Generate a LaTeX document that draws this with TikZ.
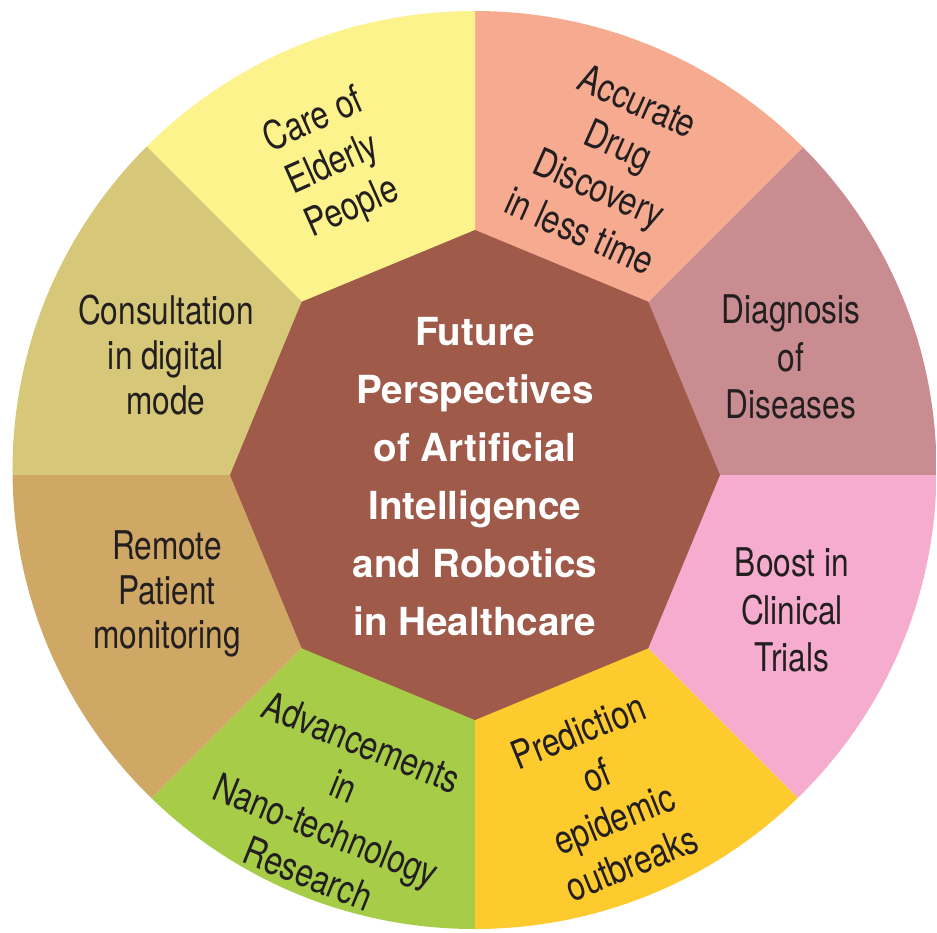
\documentclass[tikz,border=0pt]{standalone}
\usepackage{fontspec}
\setmainfont{TeX Gyre Heros}
\newfontfamily\narrowfont{TeX Gyre Heros}[FakeStretch=0.8]
\usepackage{xcolor}
\definecolor{careyellow}{HTML}{FDF38C}
\definecolor{drugsalmon}{HTML}{F6AA8F}
\definecolor{diagrose}{HTML}{C98D91}
\definecolor{trialpink}{HTML}{F5ACCE}
\definecolor{epigold}{HTML}{FECB2F}
\definecolor{nanogreen}{HTML}{A7CC47}
\definecolor{remotetan}{HTML}{CFA866}
\definecolor{consultkhaki}{HTML}{D6C878}
\definecolor{hubbrown}{HTML}{9F5A4A}
\definecolor{topicink}{HTML}{231F20}

\begin{document}
\begin{tikzpicture}[x=0.2mm,y=0.2mm,
  topic/.style={align=center,text=topicink,inner sep=0pt,
    font={\fontsize{22.5}{27}\narrowfont}},
  tighttopic/.style={topic,font={\fontsize{22.5}{25.5}\narrowfont}},
  hub/.style={align=center,text=white,inner sep=0pt,
    font={\fontsize{22}{33}\bfseries}}]
  \useasboundingbox (-475,-457) rectangle (462,475);
  \begin{scope}
    \clip (-0.5,5) ellipse [x radius=462, y radius=459];
    \foreach \a/\c in {0/diagrose,45/drugsalmon,90/careyellow,135/consultkhaki,
      180/remotetan,225/nanogreen,270/epigold,315/trialpink}
      \fill[\c] (0,0) -- (\a:700) -- (\a+45:700) -- cycle;
  \end{scope}
  \fill[hubbrown] (0:245) \foreach \a in {45,90,...,315} {-- (\a:245)} -- cycle;

  \node[topic,rotate=24] (care) at (-142,310) {Care of\\Elderly\\People};
  \node[topic,rotate=-24] (drug) at (134,309) {Accurate\\Drug\\Discovery\\in less time};
  \node[topic] (diagnosis) at (316,118) {Diagnosis\\of\\Diseases};
  \node[topic] (trials) at (317,-135) {Boost in\\Clinical\\Trials};
  \node[topic,rotate=22] (epidemic) at (130,-322) {Prediction\\of\\epidemic\\outbreaks};
  \node[topic,rotate=-22] (nano) at (-140,-333) {Advancements\\in\\Nano-technology\\Research};
  \node[tighttopic] (remote) at (-308,-119) {Remote\\Patient\\monitoring};
  \node[tighttopic] (consult) at (-309,120) {Consultation\\in digital\\mode};
  \node[hub] (future) at (0,-2) {Future\\Perspectives\\of Artificial\\Intelligence\\and Robotics\\in Healthcare};
\end{tikzpicture}
\end{document}
